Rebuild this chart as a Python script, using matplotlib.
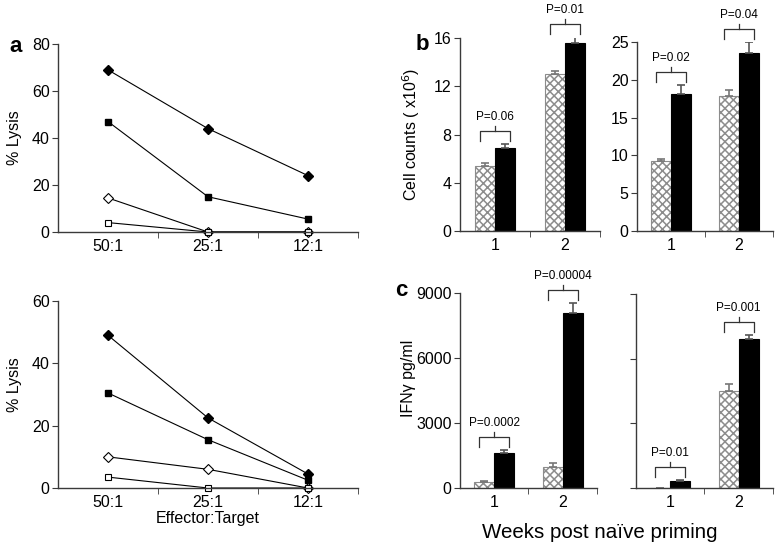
import matplotlib.pyplot as plt
import numpy as np

plt.rcParams['font.family'] = ['Liberation Sans', 'DejaVu Sans']
plt.rcParams['hatch.linewidth'] = 1.1
plt.rcParams['hatch.color'] = '#8c8c8c'

# panel a - % lysis at each effector:target ratio
ratios = ['50:1', '25:1', '12:1']
a1_filled_diamond = [69, 44, 24]
a1_filled_square = [47, 15, 5.5]
a1_open_diamond = [14.5, 0, 0]
a1_open_square = [4, 0, 0]
a2_filled_diamond = [49, 22.5, 4.5]
a2_filled_square = [30.5, 15.5, 2.5]
a2_open_diamond = [10, 6, 0]
a2_open_square = [3.5, 0, 0]

# panels b and c - weeks 1 and 2, hatched vs black bars
weeks = ['1', '2']
b1_hatched = [5.4, 13.0]
b1_hatched_err = [0.2, 0.3]
b1_black = [6.85, 15.55]
b1_black_err = [0.4, 0.55]
b1_p = ['P=0.06', 'P=0.01']

b2_hatched = [9.2, 17.9]
b2_hatched_err = [0.35, 0.75]
b2_black = [18.1, 23.6]
b2_black_err = [1.2, 1.35]
b2_p = ['P=0.02', 'P=0.04']

c1_hatched = [290, 950]
c1_hatched_err = [40, 190]
c1_black = [1600, 8100]
c1_black_err = [150, 420]
c1_p = ['P=0.0002', 'P=0.00004']

c2_hatched = [0, 4520]
c2_hatched_err = [0, 310]
c2_black = [320, 6900]
c2_black_err = [50, 200]
c2_p = ['P=0.01', 'P=0.001']

AX = '#3a3a3a'
FS = 11.5
fig = plt.figure(figsize=(7.75, 5.46), dpi=100)


def style_axes(ax):
    for s in ['top', 'right']:
        ax.spines[s].set_visible(False)
    for s in ['left', 'bottom']:
        ax.spines[s].set_color(AX)
        ax.spines[s].set_linewidth(1.0)
    ax.tick_params(axis='y', direction='out', length=4, color=AX, labelsize=FS, pad=2)
    ax.tick_params(axis='x', which='major', length=0, labelsize=FS, pad=5)
    ax.tick_params(axis='x', which='minor', direction='out', length=4, color=AX)


def lysis_panel(ax, fd, fs, od, os_, ymax):
    x = np.arange(len(ratios))
    ax.plot(x, fd, '-', color='black', lw=0.8, marker='D', ms=5, mfc='black', mec='black', clip_on=False)
    ax.plot(x, fs, '-', color='black', lw=0.8, marker='s', ms=5, mfc='black', mec='black', clip_on=False)
    ax.plot(x, od, '-', color='black', lw=0.8, marker='D', ms=5, mfc='white', mec='black', mew=0.8, clip_on=False)
    ax.plot(x, os_, '-', color='black', lw=0.8, marker='s', ms=4.8, mfc='white', mec='black', mew=0.8, clip_on=False)
    ax.set_xlim(-0.5, 2.5)
    ax.set_ylim(0, ymax)
    ax.set_yticks(np.arange(0, ymax + 1, 20))
    ax.set_xticks(x)
    ax.set_xticklabels(ratios)
    ax.set_xticks([0.5, 1.5, 2.5], minor=True)
    style_axes(ax)


def bracket(ax, xc, base, label, ymax):
    # offsets in pixels converted to data units
    px = ymax / (ax.get_position().height * fig.get_figheight() * fig.dpi)
    y0 = base + 3 * px
    y1 = base + 13 * px
    xl, xr = xc - 0.22, xc + 0.22
    kw = dict(color='#333333', lw=0.9, clip_on=False)
    ax.plot([xl, xl, xr, xr], [y0, y1, y1, y0], **kw)
    ax.plot([xc, xc], [y1, y1 + 5 * px], **kw)
    ax.text(xc, y1 + 14 * px, label, ha='center', va='center', fontsize=8.5, clip_on=False)


def bar_panel(ax, hat, hat_err, blk, blk_err, ymax, yticks, pvals, labels=True):
    x = np.arange(len(weeks))
    w = 0.29
    ax.bar(x - w, hat, w, align='edge', color='white', edgecolor='#8c8c8c', hatch='xxxx', lw=0.8)
    ax.bar(x, blk, w, align='edge', color='black', edgecolor='black', lw=0.8)
    z = np.zeros(len(weeks))
    ax.errorbar(x - w / 2, hat, yerr=[z, hat_err], fmt='none', ecolor='#777777', elinewidth=1.2, capsize=3, capthick=1.2)
    ax.errorbar(x + w / 2, blk, yerr=[z, blk_err], fmt='none', ecolor='#555555', elinewidth=1.2, capsize=3, capthick=1.2)
    ax.set_xlim(-0.5, 1.5)
    ax.set_ylim(0, ymax)
    ax.set_yticks(yticks)
    if not labels:
        ax.set_yticklabels([])
    ax.set_xticks(x)
    ax.set_xticklabels(weeks)
    ax.set_xticks([0.5, 1.5], minor=True)
    style_axes(ax)
    for i in range(len(weeks)):
        top = max(hat[i] + hat_err[i], blk[i] + blk_err[i])
        bracket(ax, x[i], top, pvals[i], ymax)


ax_a1 = fig.add_axes([0.0748, 0.5751, 0.3871, 0.3443])
ax_a2 = fig.add_axes([0.0748, 0.1062, 0.3871, 0.3425])
ax_b1 = fig.add_axes([0.5935, 0.5769, 0.1806, 0.3535])
ax_b2 = fig.add_axes([0.8219, 0.5769, 0.1755, 0.3462])
ax_c1 = fig.add_axes([0.5935, 0.1062, 0.1768, 0.3571])
ax_c2 = fig.add_axes([0.8206, 0.1062, 0.1768, 0.3553])

lysis_panel(ax_a1, a1_filled_diamond, a1_filled_square, a1_open_diamond, a1_open_square, 80)
lysis_panel(ax_a2, a2_filled_diamond, a2_filled_square, a2_open_diamond, a2_open_square, 60)

bar_panel(ax_b1, b1_hatched, b1_hatched_err, b1_black, b1_black_err, 16, [0, 4, 8, 12, 16], b1_p)
bar_panel(ax_b2, b2_hatched, b2_hatched_err, b2_black, b2_black_err, 25, [0, 5, 10, 15, 20, 25], b2_p)
bar_panel(ax_c1, c1_hatched, c1_hatched_err, c1_black, c1_black_err, 9000, [0, 3000, 6000, 9000], c1_p)
bar_panel(ax_c2, c2_hatched, c2_hatched_err, c2_black, c2_black_err, 9000, [0, 3000, 6000, 9000], c2_p, labels=False)

# axis titles and panel letters
fig.text(15 / 775, 1 - 138 / 546, '% Lysis', rotation=90, ha='center', va='center', fontsize=FS)
fig.text(15 / 775, 1 - 385 / 546, '% Lysis', rotation=90, ha='center', va='center', fontsize=FS)
fig.text(208 / 775, 1 - 518 / 546, 'Effector:Target', ha='center', va='center', fontsize=FS)
fig.text(411 / 775, 1 - 134 / 546, 'Cell counts ( x10$^{6}$)', rotation=90, ha='center', va='center', fontsize=FS)
fig.text(408 / 775, 1 - 378 / 546, 'IFN\u03b3 pg/ml', rotation=90, ha='center', va='center', fontsize=FS)
fig.text(600 / 775, 1 - 533 / 546, 'Weeks post na\u00efve priming', ha='center', va='center', fontsize=14.8)
fig.text(16 / 775, 1 - 46 / 546, 'a', ha='center', va='center', fontsize=16, fontweight='bold')
fig.text(422 / 775, 1 - 44 / 546, 'b', ha='center', va='center', fontsize=16, fontweight='bold')
fig.text(401 / 775, 1 - 290 / 546, 'c', ha='center', va='center', fontsize=16, fontweight='bold')

fig.savefig('out.png', dpi=100)
